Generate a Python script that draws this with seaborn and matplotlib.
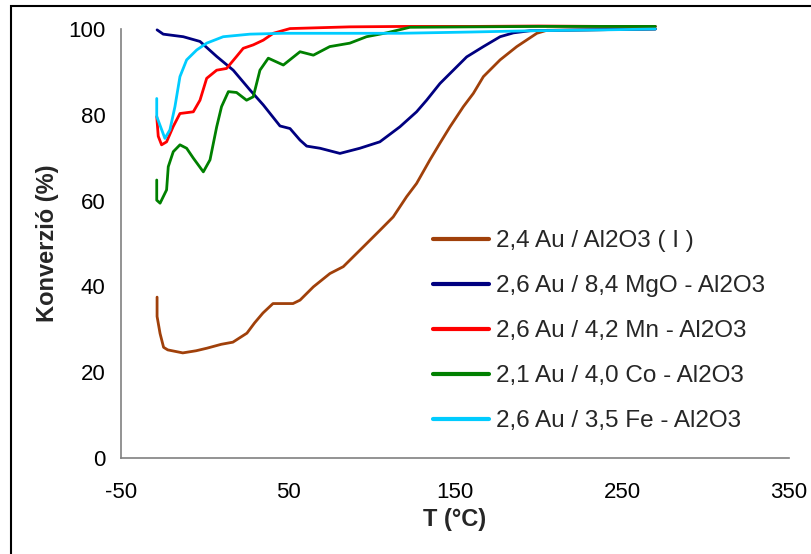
import matplotlib
matplotlib.use("Agg")
import matplotlib.pyplot as plt
import matplotlib.patches as mpatches
import seaborn as sns
import pandas as pd

labels = ["2,4 Au / Al2O3 ( I )", "2,6 Au / 8,4 MgO - Al2O3", "2,6 Au / 4,2 Mn - Al2O3",
          "2,1 Au / 4,0 Co - Al2O3", "2,6 Au / 3,5 Fe - Al2O3"]
colors = ["#A0400A", "#000080", "#FF0000", "#008000", "#00CCFF"]

t_au = [-28.4, -28.4, -26.6, -24.5, -22, -13, -5, 1.5, 10, 17, 25.4, 30, 35, 41, 50, 53, 57.2, 65.2, 75.1,
        83.1, 97.1, 105.1, 113, 121, 127, 135, 141, 147, 155, 161, 167, 177, 187, 199, 205, 230, 250, 270]
y_au = [37.5, 33, 29, 25.8, 25.2, 24.5, 25, 25.6, 26.5, 27, 29.1, 31.5, 33.8, 36, 36, 36, 36.8, 39.9, 43,
        44.6, 50, 53.1, 56.2, 60.9, 64, 69.5, 73.4, 77.2, 81.9, 85, 88.9, 92.8, 95.9, 99, 99.7, 99.8, 99.9, 100]

t_mgo = [-28.4, -24.7, -12.7, -2.7, 7.3, 17.2, 27.2, 35.2, 45.2, 51.2, 57.2, 61.2, 69.2, 81.1, 93, 105, 117,
         127, 133, 141, 149, 157, 167, 177, 185, 195, 230, 270]
y_mgo = [99.8, 98.8, 98.2, 97.1, 93.6, 90.4, 85.8, 82.3, 77.4, 76.8, 74.1, 72.7, 72.2, 71, 72.2, 73.7, 77.2,
         80.7, 83.4, 87.3, 90.4, 93.5, 95.9, 98.2, 99.1, 99.6, 99.8, 100]

t_mn = [-28.6, -27.7, -25.7, -22.7, -18.7, -14.7, -6.7, -2.7, 1.3, 7.3, 13.2, 19.2, 23.2, 29.2, 35.2, 41.2,
        51.2, 87, 120, 160, 200, 240, 270]
y_mn = [79.6, 75, 73, 73.7, 77.3, 80.3, 80.7, 83.4, 88.5, 90.4, 90.8, 93.6, 95.5, 96.3, 97.4, 99, 100.1,
        100.5, 100.6, 100.6, 100.7, 100.6, 100.6]

t_co = [-28.6, -28.6, -26.6, -22.7, -21.7, -18.7, -14.7, -10.7, -6.7, -0.7, 3.3, 7.3, 10.2, 14.3, 19.2,
        25.2, 29.2, 33.2, 38.2, 47.2, 57.2, 65.2, 75, 87, 97, 109, 123, 160, 200, 240, 270]
y_co = [64.8, 60.1, 59.4, 62.5, 67.9, 71.4, 73, 72.2, 69.9, 66.7, 69.5, 77.2, 81.9, 85.4, 85.2,
        83.4, 84.2, 90.4, 93.2, 91.6, 94.7, 93.9, 95.9, 96.7, 98.2, 99.1, 100.4, 100.5, 100.6, 100.6, 100.6]

t_fe = [-28.6, -28.6, -23.7, -20.7, -17.7, -14.7, -10.7, -4.7, 1.3, 11.2, 27.2, 47, 117, 160, 197, 240, 270]
y_fe = [83.8, 79.6, 74.5, 76.5, 81.9, 88.9, 92.8, 95.1, 96.7, 98.2, 98.8, 99, 99, 99.3, 99.6, 99.8, 100]

series = [(t_au, y_au), (t_mgo, y_mgo), (t_mn, y_mn), (t_co, y_co), (t_fe, y_fe)]
frames = []
for lab, (t, y) in zip(labels, series):
    frames.append(pd.DataFrame({"T": t, "X": y, "s": lab}))
df = pd.concat(frames, ignore_index=True)

sns.set_style("white")
plt.rcParams["font.family"] = ["Liberation Sans", "DejaVu Sans"]

fig = plt.figure(figsize=(8.12, 5.54), dpi=100)
ax = fig.add_axes([121 / 812, 1 - 458 / 554, (789 - 121) / 812, (458 - 29) / 554])

sns.lineplot(data=df, x="T", y="X", hue="s", palette=dict(zip(labels, colors)),
             hue_order=labels, sort=False, estimator=None, linewidth=2.0, ax=ax, legend=False)
for ln in ax.lines:
    ln.set_clip_on(False)

ax.set_xlim(-50, 350)
ax.set_ylim(0, 100)
ax.set_xticks([-50, 50, 150, 250, 350])
ax.set_xticklabels(["-50", "50", "150", "250", "350"])
ax.set_yticks([0, 20, 40, 60, 80, 100])
for s in ["top", "right"]:
    ax.spines[s].set_visible(False)
for s in ["left", "bottom"]:
    ax.spines[s].set_color("#808080")
    ax.spines[s].set_linewidth(1.2)
ax.tick_params(axis="both", direction="out", length=6, width=1.2, color="#808080",
               labelsize=16, labelcolor="black", pad=5)
ax.tick_params(axis="x", pad=11)
ax.set_xlabel("T (°C)", fontsize=17, fontweight="bold", labelpad=4)
ax.set_ylabel("Konverzió (%)", fontsize=17, fontweight="bold", labelpad=7)

handles = [plt.Line2D([], [], color=c, lw=3) for c in colors]
ax.legend(handles, labels, loc="upper left", bbox_to_anchor=(433 / 812, 1 - 230 / 554),
          bbox_transform=fig.transFigure, frameon=False, fontsize=17.5,
          handlelength=2.3, handletextpad=0.3, labelspacing=0.95, borderpad=0, borderaxespad=0)

fig.patches.append(mpatches.Rectangle((11 / 812, -0.1), 1.2, 1 - 6 / 554 + 0.1, transform=fig.transFigure,
                                      fill=False, edgecolor="black", linewidth=1.5))

fig.savefig("out.png", dpi=100)
